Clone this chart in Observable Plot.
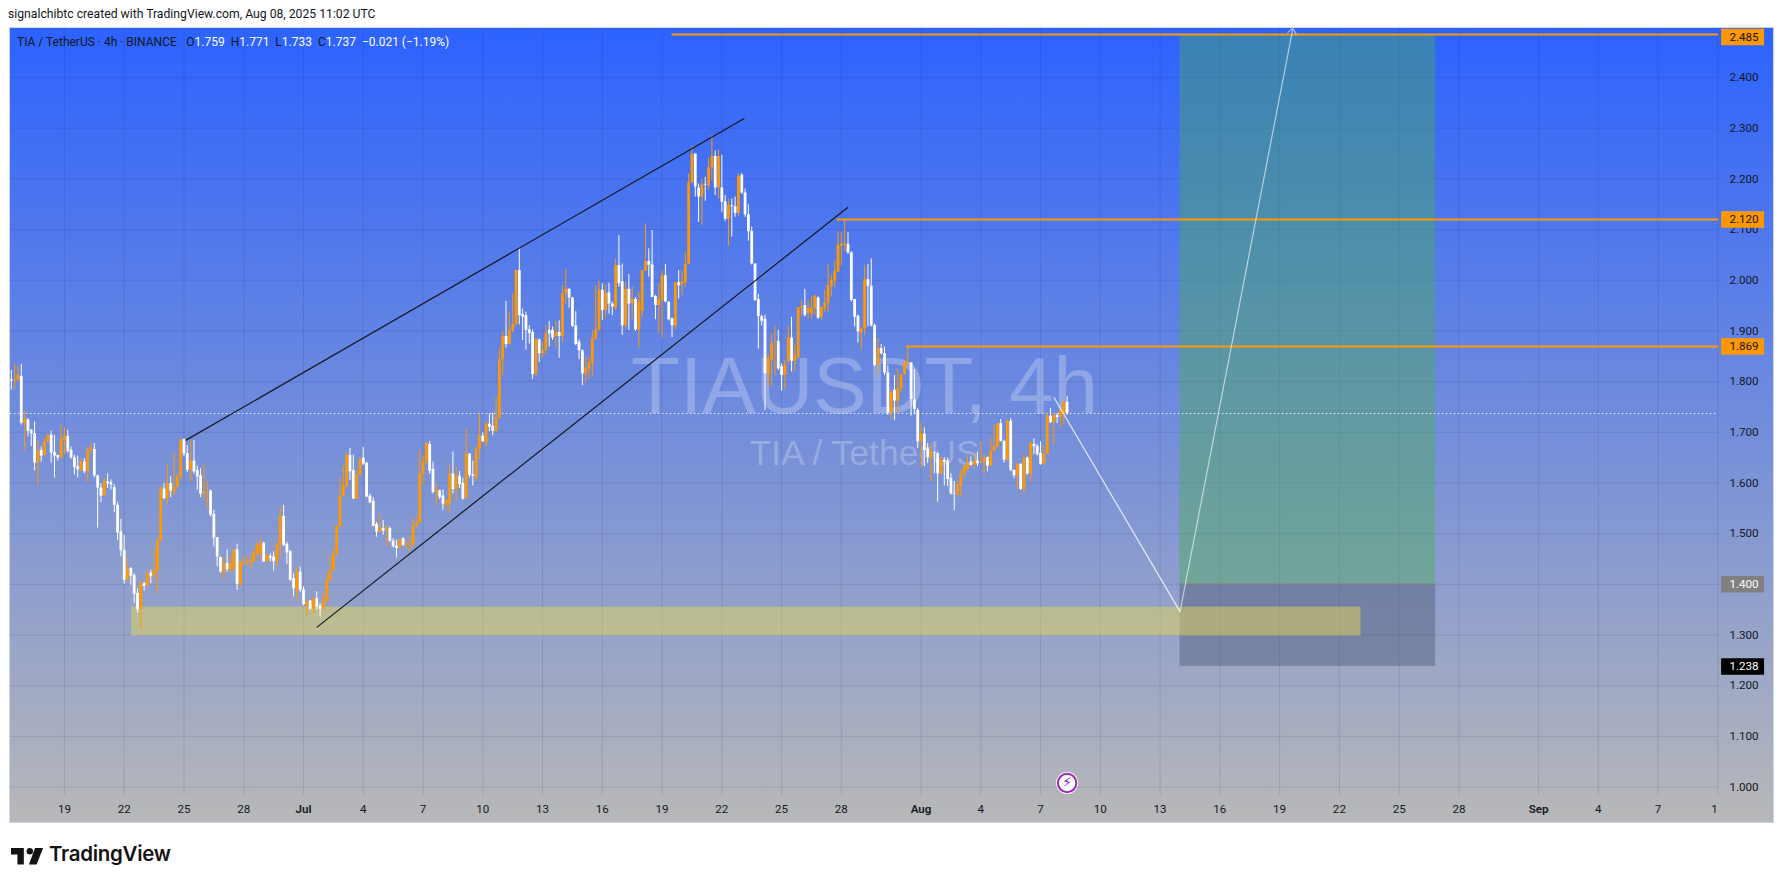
<!DOCTYPE html>
<html><head><meta charset="utf-8">
<script src="https://cdn.jsdelivr.net/npm/d3@7"></script>
<script src="https://cdn.jsdelivr.net/npm/@observablehq/plot@0.6"></script>
<style>
html,body{margin:0;padding:0;background:#fff;width:1784px;height:883px;overflow:hidden;font-family:Roboto,sans-serif;color:#131722}
#head{height:27px;line-height:29px;padding-left:8px;font-size:12.2px;white-space:nowrap}
#wrap{position:relative;height:795px}
#wrap svg{display:block}
#legend{position:absolute;left:17px;top:8px;font-size:12px;line-height:14px;white-space:nowrap;color:#131722}
#legend b{font-weight:400;color:#fff}
#legend span{margin-right:3px}
#legend span:first-child{margin-right:6.5px}
#border{position:absolute;left:9px;top:0;width:1763px;height:794px;border:1px solid #ccd6ea;pointer-events:none}
#foot{height:61px;position:relative}
#foot svg{position:absolute;left:11px;top:19px}
#foot div{position:absolute;left:49px;top:19px;font:600 20.5px/26px Inter,sans-serif;letter-spacing:-.3px;color:#131313}
</style></head><body>
<div id="head">signalchibtc created with TradingView.com, Aug 08, 2025 11:02 UTC</div>
<div id="wrap"><div id="chart"></div>
<div id="legend"><span>TIA / TetherUS · 4h · BINANCE</span> <span>O<b>1.759</b></span> <span>H<b>1.771</b></span> <span>L<b>1.733</b></span> <span>C<b>1.737</b></span> <b>−0.021 (−1.19%)</b></div>
<div id="border"></div></div>
<div id="foot"><svg width="33" height="27" viewBox="0 0 36 28"><path fill="#131313" d="M14 25H7V14H0V7h14zM28 25h-8.5L26.2 7H35z"/><circle fill="#131313" cx="20.5" cy="10.5" r="3.5"/></svg><div>TradingView</div></div>
<script>
const firstBar = new Date("2025-06-16T08:00:00Z");
const sides = "WOOWOWWWOW"+"OOWWWOOWWW"+"WOWOOWWWOW"+"WWWWWOWWWO"+"WOWOOOWOWO"+"OOWWOWWWOO"+"WWWWOWOOWO"+"OOOOOOWOWW"+"OOWWWWOWWO"+"WOWWOOOOOO"+"OOWWOOWWWW"+"WOWOWWWOWO"+"OOOOOOWWOW"+"WOOWOWWOWW"+"OOWOWWOOOW"+"OOOWWWWWOW"+"OOWWOWOOWW"+"WWWOOOOOWO"+"WWOWWOWOWO"+"OOWWWOOWWW"+"OWOOOOWWOW"+"OOWOWWOWWO"+"WWWWWWWWOO"+"OWWOOWOOOW"+"OOOWOOOOOO"+"OOWWWWOOWW"+"WOWWWOWOOO"+"OWWWOWWOWW"+"OWWWWOOOOW"+"OWOOWOOOWW"+"OWWOWOWOWW"+"WOOWOWOOW";
const highs = [
1.822,1.834,1.830,1.834,1.741,1.727,1.705,1.720,1.681,1.671,
1.686,1.697,1.702,1.694,1.655,1.714,1.709,1.704,1.671,1.655,
1.653,1.648,1.648,1.671,1.678,1.678,1.615,1.599,1.609,1.618,
1.606,1.597,1.562,1.528,1.497,1.452,1.433,1.421,1.391,1.408,
1.404,1.428,1.428,1.470,1.488,1.593,1.599,1.636,1.612,1.660,
1.613,1.686,1.686,1.674,1.684,1.684,1.633,1.628,1.635,1.603,
1.586,1.546,1.492,1.454,1.454,1.468,1.457,1.470,1.479,1.444,
1.454,1.454,1.457,1.467,1.483,1.493,1.483,1.460,1.460,1.464,
1.483,1.554,1.556,1.483,1.467,1.421,1.435,1.434,1.395,1.368,
1.368,1.376,1.385,1.362,1.381,1.421,1.456,1.472,1.516,1.609,
1.633,1.660,1.668,1.655,1.625,1.650,1.670,1.641,1.578,1.571,
1.522,1.539,1.526,1.516,1.513,1.490,1.487,1.489,1.492,1.483,
1.493,1.530,1.530,1.664,1.653,1.680,1.682,1.641,1.599,1.586,
1.586,1.567,1.635,1.661,1.630,1.623,1.609,1.706,1.657,1.643,
1.674,1.737,1.699,1.720,1.736,1.738,1.768,1.864,1.899,1.958,
1.937,1.973,2.019,2.062,1.943,1.937,1.910,1.902,1.886,1.884,
1.878,1.910,1.918,1.908,1.919,1.920,1.989,2.021,1.983,1.966,
1.938,1.882,1.862,1.849,1.848,1.901,1.989,1.998,1.993,1.991,
1.994,1.957,2.042,2.088,2.032,1.996,2.011,1.987,1.966,1.976,
2.019,2.111,2.062,2.098,1.970,1.993,2.018,2.031,1.958,1.925,
1.996,2.019,2.018,2.055,2.210,2.264,2.249,2.190,2.200,2.203,
2.241,2.285,2.255,2.257,2.247,2.167,2.160,2.160,2.164,2.210,
2.210,2.180,2.149,2.105,2.032,1.972,1.931,1.931,1.853,1.894,
1.909,1.901,1.835,1.842,1.909,1.927,1.871,1.946,1.960,1.982,
1.958,1.967,1.970,1.967,1.947,1.980,2.031,2.010,2.037,2.095,
2.095,2.118,2.094,2.056,1.962,1.931,1.906,2.029,2.031,2.042,
1.913,1.885,1.873,1.868,1.831,1.783,1.812,1.825,1.814,1.843,
1.869,1.837,1.824,1.747,1.717,1.709,1.678,1.678,1.661,1.661,
1.651,1.650,1.649,1.618,1.603,1.602,1.625,1.635,1.653,1.651,
1.656,1.661,1.681,1.655,1.651,1.687,1.714,1.717,1.725,1.684,
1.724,1.727,1.625,1.638,1.637,1.657,1.651,1.681,1.687,1.676,
1.681,1.671,1.737,1.747,1.737,1.737,1.750,1.763,1.771];
const bodyTops = [
1.803,1.803,1.812,1.810,1.724,1.724,1.704,1.697,1.664,1.664,
1.682,1.694,1.694,1.660,1.654,1.686,1.692,1.692,1.664,1.650,
1.632,1.641,1.641,1.666,1.668,1.666,1.614,1.590,1.603,1.602,
1.601,1.591,1.556,1.503,1.467,1.430,1.431,1.417,1.382,1.401,
1.401,1.420,1.422,1.428,1.487,1.588,1.588,1.599,1.599,1.591,
1.613,1.684,1.686,1.658,1.643,1.643,1.624,1.614,1.582,1.583,
1.584,1.538,1.492,1.453,1.439,1.441,1.441,1.467,1.468,1.444,
1.444,1.444,1.447,1.463,1.477,1.480,1.481,1.457,1.455,1.454,
1.478,1.534,1.534,1.479,1.464,1.411,1.424,1.424,1.389,1.365,
1.367,1.370,1.372,1.357,1.368,1.408,1.428,1.459,1.514,1.574,
1.595,1.655,1.654,1.624,1.616,1.646,1.649,1.639,1.574,1.564,
1.518,1.511,1.510,1.511,1.510,1.485,1.475,1.488,1.490,1.479,
1.479,1.514,1.521,1.618,1.641,1.678,1.676,1.627,1.586,1.584,
1.574,1.566,1.618,1.618,1.612,1.613,1.599,1.657,1.657,1.616,
1.666,1.692,1.692,1.716,1.716,1.712,1.729,1.843,1.889,1.889,
1.901,1.912,2.019,2.019,1.932,1.930,1.902,1.897,1.882,1.882,
1.861,1.894,1.901,1.901,1.897,1.897,1.973,1.982,1.982,1.965,
1.910,1.878,1.861,1.826,1.838,1.884,1.902,1.980,1.980,1.975,
1.975,1.953,2.029,2.029,1.997,1.982,1.982,1.962,1.962,1.957,
2.019,2.037,2.037,2.030,1.968,1.962,2.009,2.009,1.956,1.924,
1.995,1.995,1.997,2.032,2.192,2.249,2.249,2.182,2.188,2.188,
2.222,2.244,2.244,2.244,2.182,2.155,2.147,2.147,2.145,2.205,
2.207,2.172,2.129,2.096,2.032,1.962,1.928,1.923,1.845,1.875,
1.879,1.879,1.829,1.834,1.886,1.886,1.850,1.946,1.948,1.950,
1.944,1.945,1.969,1.965,1.946,1.955,1.989,2.000,2.018,2.069,
2.071,2.071,2.071,2.054,1.962,1.929,1.904,2.001,2.001,1.988,
1.911,1.865,1.865,1.855,1.817,1.779,1.783,1.787,1.813,1.837,
1.837,1.837,1.764,1.743,1.697,1.696,1.667,1.661,1.659,1.658,
1.645,1.645,1.643,1.609,1.579,1.597,1.616,1.633,1.638,1.641,
1.643,1.643,1.641,1.649,1.650,1.662,1.672,1.717,1.717,1.682,
1.722,1.722,1.625,1.637,1.637,1.648,1.649,1.678,1.676,1.672,
1.658,1.656,1.732,1.732,1.733,1.733,1.743,1.760,1.759];
const bodyBottoms = [
1.801,1.801,1.803,1.718,1.717,1.702,1.697,1.639,1.639,1.653,
1.655,1.681,1.659,1.653,1.649,1.649,1.684,1.662,1.650,1.630,
1.626,1.625,1.622,1.622,1.666,1.614,1.590,1.574,1.574,1.598,
1.596,1.556,1.501,1.466,1.408,1.408,1.416,1.380,1.349,1.351,
1.396,1.396,1.416,1.417,1.426,1.485,1.569,1.569,1.584,1.582,
1.592,1.612,1.657,1.625,1.625,1.622,1.612,1.578,1.578,1.582,
1.537,1.491,1.454,1.424,1.424,1.429,1.429,1.429,1.400,1.398,
1.442,1.442,1.444,1.444,1.460,1.460,1.444,1.444,1.451,1.444,
1.444,1.477,1.477,1.462,1.408,1.391,1.387,1.388,1.360,1.357,
1.351,1.351,1.355,1.351,1.351,1.366,1.406,1.428,1.458,1.513,
1.574,1.592,1.622,1.568,1.568,1.616,1.637,1.572,1.561,1.514,
1.503,1.503,1.505,1.508,1.485,1.474,1.471,1.472,1.477,1.478,
1.478,1.477,1.513,1.521,1.618,1.639,1.623,1.581,1.580,1.571,
1.558,1.556,1.560,1.587,1.587,1.597,1.568,1.570,1.615,1.613,
1.610,1.666,1.681,1.678,1.710,1.702,1.702,1.728,1.843,1.873,
1.873,1.899,1.912,1.930,1.927,1.901,1.895,1.814,1.815,1.855,
1.855,1.861,1.894,1.886,1.889,1.889,1.889,1.973,1.965,1.909,
1.873,1.861,1.815,1.815,1.824,1.836,1.883,1.901,1.940,1.940,
1.953,1.947,1.945,1.993,1.910,1.910,1.953,1.953,1.902,1.902,
1.938,2.018,2.029,1.966,1.950,1.950,1.960,1.957,1.922,1.910,
1.909,1.989,1.991,1.995,2.032,2.192,2.184,2.164,2.164,2.187,
2.186,2.222,2.182,2.182,2.154,2.120,2.120,2.145,2.132,2.132,
2.172,2.129,2.096,2.032,1.960,1.928,1.919,1.815,1.815,1.842,
1.878,1.825,1.812,1.812,1.840,1.840,1.840,1.847,1.945,1.931,
1.935,1.934,1.944,1.925,1.927,1.944,1.954,1.988,1.998,2.016,
2.067,2.069,2.054,1.960,1.927,1.898,1.896,1.904,1.988,1.910,
1.832,1.832,1.855,1.817,1.738,1.738,1.761,1.761,1.786,1.815,
1.835,1.765,1.745,1.681,1.682,1.664,1.649,1.648,1.658,1.618,
1.618,1.641,1.607,1.578,1.578,1.576,1.595,1.616,1.627,1.635,
1.635,1.638,1.640,1.640,1.633,1.633,1.662,1.671,1.682,1.645,
1.645,1.625,1.614,1.614,1.587,1.587,1.618,1.618,1.671,1.656,
1.637,1.637,1.656,1.719,1.719,1.729,1.729,1.735,1.737];
const lows = [
1.783,1.785,1.798,1.714,1.663,1.691,1.672,1.624,1.594,1.641,
1.651,1.678,1.639,1.610,1.643,1.648,1.655,1.659,1.646,1.616,
1.610,1.622,1.618,1.601,1.658,1.610,1.511,1.561,1.574,1.589,
1.586,1.541,1.487,1.454,1.400,1.406,1.398,1.362,1.343,1.311,
1.387,1.396,1.401,1.410,1.381,1.485,1.567,1.556,1.571,1.574,
1.590,1.607,1.651,1.620,1.601,1.617,1.586,1.571,1.567,1.551,
1.533,1.474,1.434,1.422,1.409,1.424,1.421,1.428,1.388,1.398,
1.434,1.437,1.431,1.442,1.454,1.447,1.444,1.444,1.444,1.426,
1.433,1.452,1.474,1.439,1.406,1.375,1.368,1.383,1.357,1.337,
1.349,1.341,1.349,1.335,1.350,1.365,1.405,1.426,1.457,1.512,
1.571,1.591,1.605,1.568,1.567,1.614,1.634,1.571,1.559,1.513,
1.493,1.501,1.497,1.474,1.483,1.472,1.452,1.470,1.475,1.470,
1.464,1.472,1.513,1.520,1.597,1.638,1.617,1.578,1.555,1.567,
1.546,1.547,1.541,1.578,1.566,1.589,1.566,1.569,1.610,1.594,
1.603,1.647,1.681,1.671,1.701,1.693,1.699,1.726,1.812,1.866,
1.873,1.897,1.910,1.912,1.881,1.862,1.874,1.804,1.810,1.838,
1.846,1.853,1.868,1.881,1.866,1.846,1.877,1.952,1.945,1.907,
1.871,1.843,1.792,1.797,1.805,1.810,1.882,1.899,1.920,1.924,
1.933,1.930,1.940,1.986,1.891,1.904,1.901,1.922,1.899,1.866,
1.926,2.017,2.006,1.966,1.922,1.895,1.886,1.955,1.920,1.887,
1.901,1.963,1.970,1.986,2.031,2.190,2.164,2.114,2.108,2.156,
2.177,2.195,2.167,2.161,2.134,2.116,2.067,2.085,2.124,2.126,
2.169,2.124,2.077,2.030,1.958,1.864,1.910,1.743,1.792,1.789,
1.812,1.822,1.781,1.784,1.835,1.819,1.819,1.847,1.927,1.927,
1.924,1.924,1.931,1.923,1.921,1.937,1.937,1.967,1.985,2.015,
2.028,2.056,2.051,1.957,1.908,1.876,1.861,1.891,1.908,1.908,
1.829,1.811,1.852,1.812,1.733,1.725,1.723,1.736,1.779,1.812,
1.829,1.732,1.734,1.668,1.630,1.632,1.638,1.602,1.618,1.562,
1.615,1.594,1.593,1.576,1.545,1.574,1.572,1.609,1.622,1.633,
1.628,1.632,1.638,1.615,1.622,1.632,1.662,1.670,1.681,1.639,
1.643,1.622,1.609,1.587,1.585,1.579,1.615,1.602,1.655,1.653,
1.635,1.635,1.656,1.717,1.674,1.717,1.710,1.714,1.733];

const priceTicks = [1.0,1.1,1.2,1.3,1.4,1.5,1.6,1.7,1.8,1.9,2.0,2.1,2.2,2.3,2.4];
const dayTickDates = ["06-19","06-22","06-25","06-28","07-04","07-07","07-10","07-13","07-16","07-19","07-22","07-25","07-28","08-04","08-07","08-10","08-13","08-16","08-19","08-22","08-25","08-28","09-04","09-07","09-10"].map(d=>new Date(`2025-${d}T00:00:00Z`));
const dayTickLabels = ["19","22","25","28","4","7","10","13","16","19","22","25","28","4","7","10","13","16","19","22","25","28","4","7","10"];
const monthTickDates = ["07-01","08-01","09-01"].map(d=>new Date(`2025-${d}T00:00:00Z`));
const monthTickLabels = ["Jul","Aug","Sep"];
const D = s => new Date(`2025-${s}Z`);

const trendLines = [
  {x1:D("06-25T02:00"),y1:1.684,x2:D("07-23T03:00"),y2:2.319},
  {x1:D("07-01T16:00"),y1:1.315,x2:D("07-28T08:00"),y2:2.144}
];
const levels = [
  {price:2.485,from:D("07-19T12:00")},
  {price:2.120,from:D("07-27T19:00")},
  {price:1.869,from:D("07-31T06:30")}
];
const lastClose = 1.737;
const zone = {x1:D("06-22T09:00"),x2:D("08-23T02:00"),y1:1.298,y2:1.355};
const longBox = {x1:D("08-14T00:00"),x2:D("08-26T20:00"),entry:1.400,target:2.485,stop:1.238};
const pathDown = {x1:D("08-07T16:00"),y1:1.769,x2:D("08-14T00:00"),y2:1.346};
const pathUp = {x1:D("08-14T00:00"),y1:1.346,x2:D("08-19T16:00"),y2:2.497};
const badgeLeft = D("09-10T04:30"), badgeRight = D("09-12T08:15");
const bolt = {x:D("08-08T08:00"),y:1.008};

const bars = highs.map((h,i)=>({
  t:new Date(+firstBar+i*4*3600e3), high:h, low:lows[i],
  top:bodyTops[i], bottom:bodyBottoms[i],
  color: sides[i]==="O" ? "#ff9800" : "#ffffff"
}));
const frameEnd = new Date("2025-09-10T00:45:00Z");
const grid = {stroke:"#1c2a50",strokeOpacity:.13,strokeWidth:1};
const uiFont = "Roboto,sans-serif";
function badge(price,fill,ink,shift=0){
  return [
    Plot.ruleY([price],{x1:badgeLeft,x2:badgeRight,stroke:fill,strokeWidth:16.5,dy:shift}),
    Plot.text([price],{y:d=>d,text:d=>d.toFixed(3),frameAnchor:"right",dx:11,dy:shift,textAnchor:"start",fill:ink,fontSize:11.6,fontFamily:uiFont})
  ];
}
const chart = Plot.plot({
  width:1784,height:795,marginLeft:10,marginRight:66,marginTop:0,marginBottom:27,
  style:"background:linear-gradient(#2c62ff,#b8b8b8) 10px 0/1763px 100% no-repeat;overflow:visible",
  x:{type:"utc",domain:[new Date("2025-06-16T07:00:00Z"),frameEnd],axis:null},
  y:{domain:[0.9833,2.4986],axis:null},
  marks:[
    Plot.ruleX([...dayTickDates,...monthTickDates],grid),
    Plot.ruleY(priceTicks,grid),
    Plot.text(["TIAUSDT, 4h"],{frameAnchor:"middle",dy:-24,fontSize:80,fontFamily:"Liberation Sans",fill:"#fff",fillOpacity:.25}),
    Plot.text(["TIA / TetherUS"],{frameAnchor:"middle",dy:42,fontSize:35.5,fontFamily:"Liberation Sans",fill:"#fff",fillOpacity:.25}),
    Plot.rect([longBox],{x1:"x1",x2:"x2",y1:"entry",y2:"target",fill:"#4caf50",fillOpacity:.42}),
    Plot.rect([longBox],{x1:"x1",x2:"x2",y1:"stop",y2:"entry",fill:"#4a5670",fillOpacity:.42}),
    Plot.ruleY([longBox],{y:"entry",x1:"x1",x2:"x2",stroke:"#808080",strokeWidth:1}),
    Plot.rect([zone],{x1:"x1",x2:"x2",y1:"y1",y2:"y2",fill:"#e4d65a",fillOpacity:.5}),
    Plot.ruleY([lastClose],{stroke:"#fff",strokeWidth:1.2,strokeDasharray:"1.3,2.7"}),
    Plot.ruleY(levels,{y:"price",x1:"from",x2:frameEnd,stroke:"#ff9800",strokeWidth:2}),
    Plot.ruleX(bars,{x:"t",y1:"low",y2:"high",stroke:"color",strokeWidth:1}),
    Plot.ruleX(bars,{x:"t",y1:"bottom",y2:"top",stroke:"color",strokeWidth:2.8}),
    Plot.link(trendLines,{x1:"x1",y1:"y1",x2:"x2",y2:"y2",stroke:"#131722",strokeWidth:1.2}),
    Plot.link([pathDown],{x1:"x1",y1:"y1",x2:"x2",y2:"y2",stroke:"#fff",strokeOpacity:.8,strokeWidth:1.2}),
    Plot.arrow([pathUp],{x1:"x1",y1:"y1",x2:"x2",y2:"y2",bend:0,stroke:"#fff",strokeOpacity:.6,strokeWidth:1.2,headLength:8,headAngle:80}),
    Plot.dot([bolt],{x:"x",y:"y",r:11,fill:"#fff"}),
    Plot.dot([bolt],{x:"x",y:"y",r:9.2,fill:"#fff",stroke:"#9c27b0",strokeWidth:2}),
    Plot.text([bolt],{x:"x",y:"y",text:()=>"\u26A1\uFE0E",fill:"#9c27b0",fontSize:14,fontFamily:"DejaVu Sans"}),
    Plot.axisY({anchor:"right",ticks:priceTicks,tickFormat:d=>d.toFixed(3),tickSize:0,tickPadding:11,label:null,fontSize:11.6,fontFamily:uiFont,fill:"#131722"}),
    ...badge(2.485,"#ff9800","#131722",2.5),
    ...badge(2.120,"#ff9800","#131722"),
    ...badge(1.869,"#ff9800","#131722"),
    ...badge(1.400,"#808080","#fff"),
    ...badge(1.238,"#000","#fff"),
    Plot.axisX({ticks:dayTickDates,tickFormat:(d,i)=>dayTickLabels[i],tickSize:0,tickPadding:9,label:null,fontSize:11.6,fontFamily:uiFont,fill:"#131722"}),
    Plot.axisX({ticks:monthTickDates,tickFormat:(d,i)=>monthTickLabels[i],tickSize:0,tickPadding:9,label:null,fontSize:11.6,fontWeight:600,fontFamily:uiFont,fill:"#131722"})
  ]
});
document.getElementById("chart").append(chart);
// The price column hides whatever crosses into it: the last date label is cut at the frame edge.
d3.select(chart).selectAll("text").filter(function(){
  const box = this.getBoundingClientRect();
  return this.textContent === "10" && box.left < 1717.5 && box.right > 1717.5;
}).style("clip-path","inset(-3px 50% -3px -3px)");
</script>
</body></html>
